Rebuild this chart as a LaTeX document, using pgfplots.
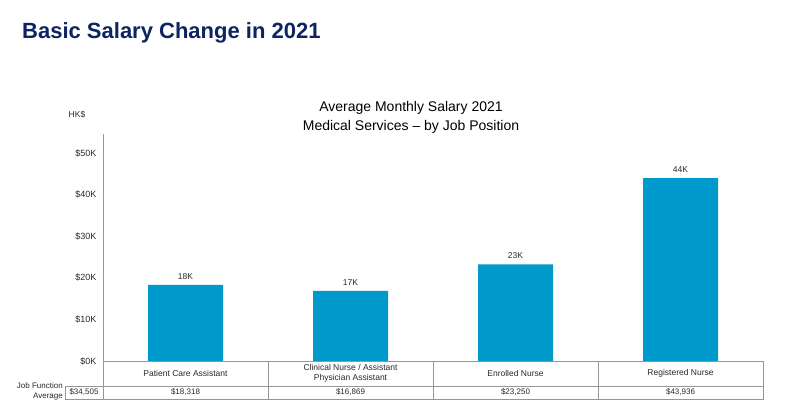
\documentclass[border=0pt]{standalone}
\usepackage{pgfplots}
\pgfplotsset{compat=1.18}
\usepackage{fontspec}
\setmainfont{Liberation Sans}
\definecolor{barblue}{RGB}{0,153,204}
\definecolor{navy}{RGB}{12,36,97}
\definecolor{linegray}{RGB}{150,150,150}
\definecolor{txt}{RGB}{40,40,40}
\begin{document}
\begin{tikzpicture}[x=1pt,y=1pt]
\path[use as bounding box] (0,0) rectangle (786,406);
\node[anchor=base west, font=\bfseries\fontsize{22}{26}\selectfont, text=navy, inner sep=0] at (22,367) {Basic Salary Change in 2021};
\node[align=center, font=\fontsize{14}{19}\selectfont, text=black] at (411,289) {Average Monthly Salary 2021\\Medical Services -- by Job Position};
\node[font=\fontsize{8.5}{10}\selectfont, text=txt] at (77,291) {HK\$};
\begin{axis}[
  at={(185.5pt,45pt)}, anchor=origin,
  scale only axis, width=660pt, height=227pt,
  xmin=-0.5, xmax=3.5, ymin=0, ymax=54570,
  axis x line*=bottom, axis y line*=left,
  axis line style={linegray, line width=0.8pt},
  x axis line style={-}, y axis line style={-},
  ybar, bar width=75pt,
  scaled y ticks=false,
  ytick={0,10000,20000,30000,40000,50000},
  yticklabels={\$0K,\$10K,\$20K,\$30K,\$40K,\$50K},
  yticklabel style={font=\fontsize{9}{10}\selectfont, text=txt, xshift=-3pt},
  xtick={0,1,2,3},
  xticklabels={Patient Care Assistant, {Clinical Nurse / Assistant\\Physician Assistant}, Enrolled Nurse, Registered Nurse},
  xticklabel style={font=\fontsize{8.5}{10}\selectfont, text=txt, align=center, anchor=center, yshift=-12.5pt},
  major tick length=0pt,
  point meta=explicit symbolic,
  nodes near coords,
  nodes near coords style={font=\fontsize{8.5}{10}\selectfont, text=txt, yshift=2pt},
  clip=false,
]
\addplot[fill=barblue, draw=none] coordinates {(0,18318) [18K] (1,16869) [17K] (2,23250) [23K] (3,43936) [44K]};
\end{axis}
% table
\draw[linegray, line width=0.8pt] (103,45) -- (763,45) -- (763,7) -- (65,7) -- (65,20) -- (763,20);
\draw[linegray, line width=0.8pt] (103,45) -- (103,7);
\foreach \xx in {268,433,598} \draw[linegray, line width=0.8pt] (\xx,45) -- (\xx,7);
\foreach \xx/\v in {185.5/18{,}318, 350.5/16{,}869, 515.5/23{,}250, 680.5/43{,}936}
  \node[font=\fontsize{8}{10}\selectfont, text=txt] at (\xx,13.5) {\$\v};
\node[font=\fontsize{8}{10}\selectfont, text=txt] at (84,13.5) {\$34,505};
\node[anchor=east, align=right, font=\fontsize{8}{10.5}\selectfont, text=txt, inner sep=0] at (63,14.5) {Job Function\\Average};
\end{tikzpicture}
\end{document}
